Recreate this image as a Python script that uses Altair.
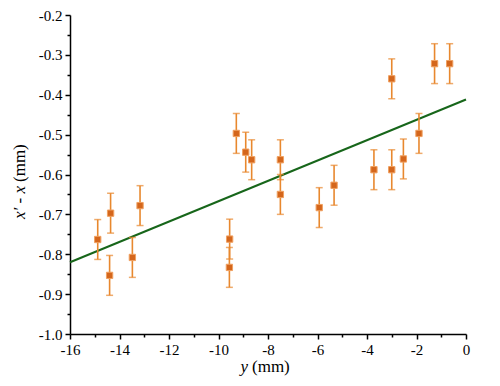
import altair as alt
import pandas as pd

# data points
xs = [-14.88, -14.36, -14.40, -13.48, -13.17, -9.55, -9.56, -9.28, -8.90, -8.66,
      -7.50, -7.50, -5.93, -5.33, -3.72, -3.00, -3.00, -2.53, -1.90, -1.27, -0.66]
ys = [-0.763, -0.697, -0.853, -0.808, -0.678, -0.762, -0.833, -0.497, -0.544, -0.563,
      -0.563, -0.650, -0.683, -0.627, -0.588, -0.588, -0.360, -0.561, -0.497, -0.322, -0.322]
errs = [0.05] * len(xs)

# fitted line end points
fit_x = [-16.0, 0.0]
fit_y = [-0.820, -0.412]

x_ticks = list(range(-16, 1))
y_ticks = [-1.0, -0.95, -0.9, -0.85, -0.8, -0.75, -0.7, -0.65, -0.6, -0.55, -0.5,
           -0.45, -0.4, -0.35, -0.3, -0.25, -0.2]

df = pd.DataFrame({"x": xs, "y": ys, "err": errs})
df["lo"] = df["y"] - df["err"]
df["hi"] = df["y"] + df["err"]
fit = pd.DataFrame({"x": fit_x, "y": fit_y})

FONT = "Liberation Serif"
PT = "#D4661C"
EB = "#E8882E"
LINE = "#17661A"

xscale = alt.Scale(domain=[-16, 0], nice=False, zero=False)
yscale = alt.Scale(domain=[-1.0, -0.2], nice=False, zero=False)

xaxis = alt.Axis(
    values=x_ticks, title=None, grid=False,
    labelExpr="datum.value % 2 == 0 ? replace(format(datum.value, 'd'), '\u2212', '-') : ''",
    tickSize={"condition": {"test": "datum.value % 2 == 0", "value": 5}, "value": 3},
    labelFont=FONT, labelFontSize=15, labelColor="black", labelPadding=3,
    domainColor="black", domainWidth=1.5, tickColor="black", tickWidth=1.5,
    labelFlush=False, labelOverlap=False,
)
yaxis = alt.Axis(
    values=y_ticks, title=None, grid=False,
    labelExpr="round(datum.value * 100) % 10 == 0 ? replace(format(datum.value, '.1f'), '\u2212', '-') : ''",
    tickSize={"condition": {"test": "round(datum.value * 100) % 10 == 0", "value": 5}, "value": 3},
    labelFont=FONT, labelFontSize=15, labelColor="black", labelPadding=3,
    domainColor="black", domainWidth=1.5, tickColor="black", tickWidth=1.5,
    labelFlush=False, labelOverlap=False,
)


def X(f):
    return alt.X(f, scale=xscale, axis=xaxis)


def Y(f):
    return alt.Y(f, scale=yscale, axis=yaxis)


base = alt.Chart(df)

line = alt.Chart(fit).mark_line(color=LINE, strokeWidth=2).encode(x=X("x:Q"), y=Y("y:Q"))

rules = base.mark_rule(color=EB, strokeWidth=1.6).encode(x=X("x:Q"), y=Y("lo:Q"), y2="hi:Q")
caps_lo = base.mark_tick(color=EB, orient="horizontal", size=7, thickness=1.5).encode(
    x=X("x:Q"), y=Y("lo:Q"))
caps_hi = base.mark_tick(color=EB, orient="horizontal", size=7, thickness=1.5).encode(
    x=X("x:Q"), y=Y("hi:Q"))
pts = base.mark_square(color=PT, size=40, opacity=1, stroke="#F0A060", strokeWidth=1).encode(
    x=X("x:Q"), y=Y("y:Q"))

one = pd.DataFrame({"k": [0]})
t_y_it = alt.Chart(one).mark_text(text="y", font=FONT, fontSize=17, fontStyle="italic",
                                  align="right", baseline="alphabetic", color="black").encode(
    x=alt.value(178), y=alt.value(357))
t_y_mm = alt.Chart(one).mark_text(text="(mm)", font=FONT, fontSize=17,
                                  align="left", baseline="alphabetic", color="black").encode(
    x=alt.value(182), y=alt.value(357))
t_x_it = alt.Chart(one).mark_text(text="x\u2032 - x", font=FONT, fontSize=17, fontStyle="italic",
                                  align="right", baseline="alphabetic", angle=270, color="black").encode(
    x=alt.value(-45), y=alt.value(171))
t_x_mm = alt.Chart(one).mark_text(text="(mm)", font=FONT, fontSize=17,
                                  align="left", baseline="alphabetic", angle=270, color="black").encode(
    x=alt.value(-45), y=alt.value(167))

chart = alt.layer(line, rules, caps_lo, caps_hi, pts, t_y_it, t_y_mm, t_x_it, t_x_mm).properties(
    width=396, height=319,
    autosize=alt.AutoSizeParams(type="none"),
    padding={"left": 62, "top": 7, "right": 26, "bottom": 52},
    background="white",
).configure_view(stroke=None)

chart.save("out.html", embed_options={"renderer": "svg", "actions": False})
